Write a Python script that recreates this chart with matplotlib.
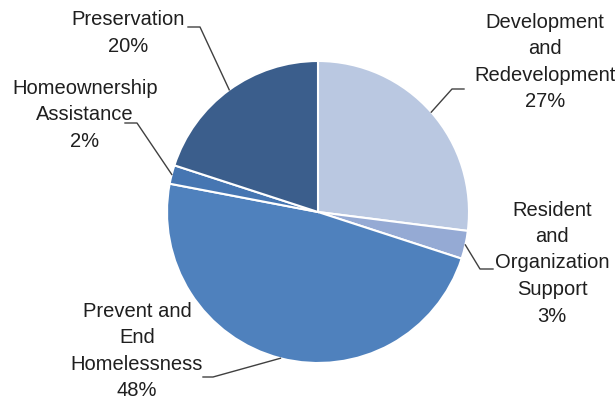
import numpy as np
import matplotlib.pyplot as plt

# Shares of the budget by program area (clockwise from 12 o'clock)
categories = ['Development\nand\nRedevelopment', 'Resident\nand\nOrganization\nSupport',
              'Prevent and\nEnd\nHomelessness', 'Homeownership\nAssistance', 'Preservation']
shares = [27, 3, 48, 2, 20]
colors = ['#BAC8E1', '#95AAD4', '#4F81BD', '#4676B2', '#3B5E8C']

# label layout in pixel space (x, y from top): text centre, elbow, end of leader
text_pos = [(545, 62), (552, 263), (137, 351), (85, 115), (128, 33)]
elbows = [(452, 89), (480, 269), (213, 377), (137, 123), (200, 27)]
ends = [(464, 89), (493, 269), (203, 377), (125, 123), (188, 27)]

W, H = 615, 405
cx, cy, r = 318, H - 212, 151

fig = plt.figure(figsize=(6.15, 4.05), dpi=100)
ax = fig.add_axes([0, 0, 1, 1])
wedges, _ = ax.pie(shares, colors=colors, startangle=90, counterclock=False,
                   center=(cx, cy), radius=r,
                   wedgeprops=dict(edgecolor='white', linewidth=1.5))
ax.set_xlim(0, W)
ax.set_ylim(0, H)
ax.set_aspect('equal')
ax.axis('off')

font = dict(family=['Liberation Sans Narrow', 'Liberation Sans'], size=14.5, color='#1f1f1f')

for w, lab, s, tp, el, en in zip(wedges, categories, shares, text_pos, elbows, ends):
    mid = np.deg2rad((w.theta1 + w.theta2) / 2)
    px, py = cx + r * np.cos(mid), cy + r * np.sin(mid)
    ax.plot([px, el[0], en[0]], [py, H - el[1], H - en[1]], color='#404040', lw=1)
    ax.text(tp[0], H - tp[1], f'{lab}\n{s}%', ha='center', va='center',
            multialignment='center', linespacing=1.5, **font)

fig.savefig('out.png', dpi=100)
